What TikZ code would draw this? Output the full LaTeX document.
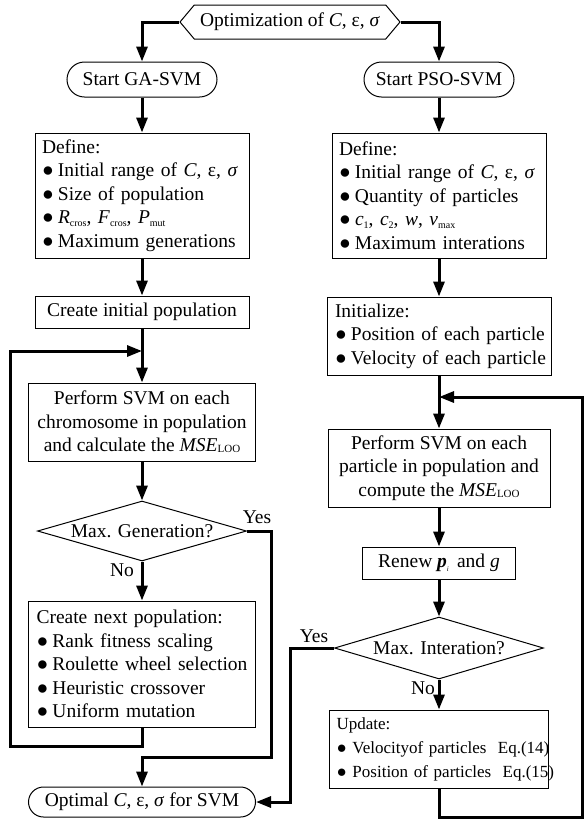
\documentclass[tikz,border=0pt]{standalone}
\usepackage{fontspec}
\setmainfont{Liberation Serif}
\usetikzlibrary{shapes.misc,shapes.symbols,shapes.geometric,arrows.meta}
\newcommand{\fs}{\fontsize{19.5}{23.5}\selectfont}
\newcommand{\fsu}{\fontsize{17}{24}\selectfont}
\newcommand{\bul}{\makebox[16pt][l]{●}}
\newcommand{\bl}[1]{\mbox{\bul #1}}
\newcommand{\ssub}[1]{\raisebox{-2.5pt}{\fontsize{10}{10}\selectfont #1}}
\newcommand{\loo}{\raisebox{-1pt}{\fontsize{11}{11}\selectfont LOO}}
\newcommand{\Cev}{\textit{C}, ε, \textit{σ}}
\begin{document}
\begin{tikzpicture}[x=1pt,y=-1pt,
  every node/.style={font=\fs},
  box/.style={draw, line width=1pt, inner sep=0pt},
  lbox/.style={box, align=left},
  cbox/.style={box, align=center},
  term/.style={draw, line width=1pt, rounded rectangle, inner sep=0pt},
  dec/.style={draw, line width=1pt, diamond, inner sep=0pt},
  conn/.style={line width=3pt, -{Triangle[length=15pt,width=11pt]}},
  wire/.style={line width=3pt}
]
\useasboundingbox (0,0) rectangle (584,820);

% top
\node[draw, line width=1pt, signal, signal to=west and east, signal pointer angle=100,
      minimum width=220, minimum height=34, inner sep=0pt] (opt) at (290,22) {Optimization of \Cev};
\node[term, minimum width=150, minimum height=35] (ga) at (142,79.5) {Start GA-SVM};
\node[term, minimum width=150, minimum height=35] (pso) at (439,79.5) {Start PSO-SVM};

% left column
\node[lbox, minimum width=214, minimum height=125, text width=200] (defl) at (142,195.5)
  {\mbox{Define:}\\ \bl{Initial range of \Cev}\\ \bl{Size of population}\\
   \bl{\textit{R}\ssub{cros}, \textit{F}\ssub{cros}, \textit{P}\ssub{mut}}\\ \bl{Maximum generations}};
\node[cbox, minimum width=214, minimum height=32] (init) at (142,312) {Create initial population};
\node[cbox, minimum width=227, minimum height=78] (perl) at (142,422)
  {Perform SVM on each\\ chromosome in population\\ and calculate the \textit{MSE}\loo};
\node[dec, minimum width=209, minimum height=60] (gen) at (142,531) {\makebox[0pt]{Max. Generation?}};
\node[lbox, minimum width=227, minimum height=126, text width=211] (next) at (142,664)
  {\mbox{Create next population:}\\ \bl{Rank fitness scaling}\\ \bl{Roulette wheel selection}\\
   \bl{Heuristic crossover}\\ \bl{Uniform mutation}};
\node[term, minimum width=227, minimum height=30] (optimal) at (142,802) {Optimal \Cev\ for SVM};

% right column
\node[lbox, minimum width=214, minimum height=125, text width=200] (defr) at (439,195.5)
  {\mbox{Define:}\\ \bl{Initial range of \Cev}\\ \bl{Quantity of particles}\\
   \bl{\textit{c}\ssub{1}, \textit{c}\ssub{2}, \textit{w}, \textit{v}\ssub{max}}\\ \bl{Maximum interations}};
\node[lbox, minimum width=224, minimum height=78, text width=208] (inz) at (439,336)
  {\mbox{Initialize:}\\ \bl{Position of each particle}\\ \bl{Velocity of each particle}};
\node[cbox, minimum width=222, minimum height=78] (perr) at (439,468)
  {Perform SVM on each\\ particle in population and\\ compute the \textit{MSE}\loo};
\node[cbox, minimum width=153, minimum height=32] (renew) at (439,563)
  {Renew \textbf{\textit{p}}\raisebox{-4pt}{\fontsize{7}{7}\selectfont\textit{i}}\ \,and \textit{g}};
\node[dec, minimum width=209, minimum height=62] (iter) at (439,648) {\makebox[0pt]{Max. Interation?}};
\node[lbox, minimum width=219, minimum height=78, text width=205, font=\fsu] (upd) at (439,749)
  {\mbox{Update:}\\ \bl{Velocityof particles\ \ Eq.(14)}\\ \bl{Position of particles\ \ Eq.(15)}};

% labels
\node (yes1) at (257,517) {Yes};
\node (no1) at (122,570) {No};
\node (yes2) at (314,636) {Yes};
\node (no2) at (423,688) {No};

% coordinates
\coordinate (loopin) at (142,351);
\coordinate (lb) at (10,746);
\coordinate (gy) at (271,757);
\coordinate (iy) at (290,700);
\coordinate (rb) at (582,817);
\coordinate (rin) at (439,397);

% connectors
\draw[conn] (opt.west) -| (ga.north);
\draw[conn] (opt.east) -| (pso.north);
\draw[conn] (ga.south) -- (defl.north);
\draw[conn] (defl.south) -- (init.north);
\draw[conn] (init.south) -- (perl.north);
\draw[conn] (perl.south) -- (gen.north);
\draw[conn] (gen.south) -- (next.north);
\draw[conn] (next.south) |- (lb) |- (loopin);
\draw[conn] (gen.east) -| (gy) -| (optimal.north);

\draw[conn] (pso.south) -- (defr.north);
\draw[conn] (defr.south) -- (inz.north);
\draw[conn] (inz.south) -- (perr.north);
\draw[conn] (perr.south) -- (renew.north);
\draw[conn] (renew.south) -- (iter.north);
\draw[conn] (iter.south) -- (upd.north);
\draw[conn] (iter.west) -| (iy) |- (optimal.east);
\draw[conn] (upd.south) |- (rb) |- (rin);
\end{tikzpicture}
\end{document}
